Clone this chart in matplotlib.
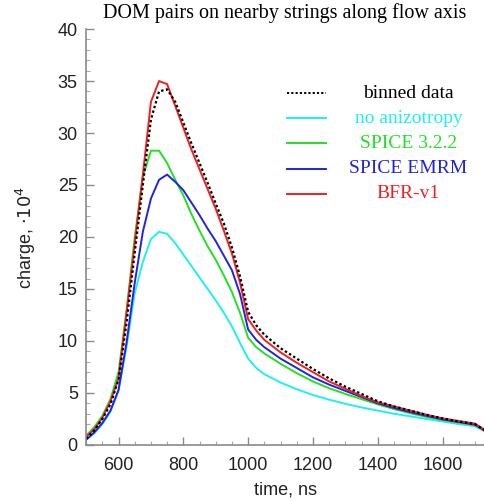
import matplotlib
matplotlib.use('Agg')
import matplotlib.pyplot as plt
from matplotlib.ticker import MultipleLocator

# time grid, ns
time = [500, 525, 550, 575, 600, 625, 650, 675, 700, 725, 750, 775, 800, 825, 850,
        875, 900, 925, 950, 975, 1000, 1025, 1050, 1100, 1150, 1200, 1250, 1300,
        1350, 1400, 1450, 1500, 1550, 1600, 1650, 1700, 1730]

binned = [0.6, 1.4, 2.5, 3.9, 6.3, 11.8, 18.5, 25.0, 31.3, 34.0, 34.2, 33.0, 31.0, 29.0, 27.1,
          25.2, 23.2, 21.3, 19.0, 16.2, 12.8, 11.5, 10.6, 9.3, 8.3, 7.3, 6.4, 5.6,
          4.9, 4.2, 3.7, 3.3, 2.9, 2.55, 2.25, 2.0, 1.4]
no_aniz = [0.5, 1.1, 2.0, 3.2, 5.2, 9.5, 14.6, 17.6, 19.8, 20.5, 20.3, 19.4, 18.3, 17.2, 16.1,
           15.0, 13.9, 12.7, 11.4, 9.8, 8.3, 7.4, 6.8, 6.0, 5.35, 4.8, 4.35, 3.95,
           3.6, 3.3, 3.0, 2.75, 2.5, 2.25, 2.0, 1.8, 1.3]
spice322 = [0.9, 1.7, 2.8, 4.4, 7.0, 13.0, 20.0, 25.8, 28.3, 28.3, 27.1, 25.5, 24.0, 22.2, 20.6,
            19.1, 17.8, 16.3, 14.7, 12.7, 10.3, 9.4, 8.8, 7.8, 6.9, 6.1, 5.45, 4.9,
            4.4, 3.9, 3.45, 3.05, 2.7, 2.4, 2.15, 1.9, 1.4]
emrm = [0.5, 1.2, 2.1, 3.3, 5.3, 9.9, 15.6, 20.5, 23.7, 25.5, 26.0, 25.3, 24.5, 23.3, 22.1,
        20.8, 19.6, 18.2, 16.8, 14.5, 11.1, 10.1, 9.4, 8.3, 7.4, 6.5, 5.8, 5.2,
        4.6, 4.0, 3.55, 3.15, 2.8, 2.45, 2.2, 1.95, 1.4]
bfr = [0.8, 1.5, 2.6, 4.2, 6.4, 12.8, 19.4, 26.0, 33.0, 35.0, 34.7, 32.6, 30.5, 28.4, 26.5,
       24.6, 22.7, 20.6, 18.4, 15.6, 12.1, 11.0, 10.1, 8.9, 7.9, 7.0, 6.1, 5.4,
       4.7, 4.1, 3.7, 3.3, 2.9, 2.55, 2.3, 2.05, 1.45]

labels = ['binned data', 'no anizotropy', 'SPICE 3.2.2', 'SPICE EMRM', 'BFR-v1']
colors = ['black', '#1ef0f0', '#22e022', '#2222e0', '#f02020']

fig = plt.figure(figsize=(4.84, 5.01), dpi=100)
ax = fig.add_axes([0.178, 0.112, 0.822, 0.830])

ax.plot(time, no_aniz, color=colors[1], lw=1.4)
ax.plot(time, spice322, color=colors[2], lw=1.4)
ax.plot(time, emrm, color=colors[3], lw=1.4)
ax.plot(time, bfr, color=colors[4], lw=1.4)
ax.plot(time, binned, color='black', lw=1.6, ls=(0, (1.1, 1.1)))

ax.set_xlim(500, 1728)
ax.set_ylim(0, 40)
ax.xaxis.set_major_locator(MultipleLocator(200))
ax.xaxis.set_minor_locator(MultipleLocator(50))
ax.yaxis.set_major_locator(MultipleLocator(5))
ax.yaxis.set_minor_locator(MultipleLocator(1))
for s in ['top', 'right']:
    ax.spines[s].set_visible(False)
for s in ['left', 'bottom']:
    ax.spines[s].set_color('#8a8a8a')
    ax.spines[s].set_linewidth(1.2)
ax.tick_params(which='major', direction='in', length=6, width=1, color='#8a8a8a',
               labelsize=13, labelcolor='#222222')
ax.tick_params(axis='x', which='major', pad=9)
ax.tick_params(axis='y', which='major', pad=6)
ax.tick_params(which='minor', direction='in', length=3, width=0.8, color='#aaaaaa')
for lab in ax.get_xticklabels() + ax.get_yticklabels():
    lab.set_family('Liberation Sans')

ax.set_xlabel('time, ns', fontsize=13, family='Liberation Sans', labelpad=5, color='#222222')
ax.set_ylabel('charge, $\\cdot 10^4$', fontsize=13, family='Liberation Sans', labelpad=14,
              color='#222222')
ax.set_title('DOM pairs on nearby strings along flow axis', fontsize=14.5,
             family='Liberation Serif', pad=8)

# legend, drawn by hand: short line on the left, centred coloured text
for i, (lab, c) in enumerate(zip(labels, colors)):
    y = 0.846 - i * 0.0605
    ls = (0, (1.1, 1.1)) if i == 0 else '-'
    ax.plot([0.506, 0.603], [y, y], transform=ax.transAxes, color=c, lw=1.4, ls=ls)
    ax.text(0.810, y, lab, transform=ax.transAxes, color=c, fontsize=14,
            family='Liberation Serif', ha='center', va='center')

fig.savefig('out.png', dpi=100)
